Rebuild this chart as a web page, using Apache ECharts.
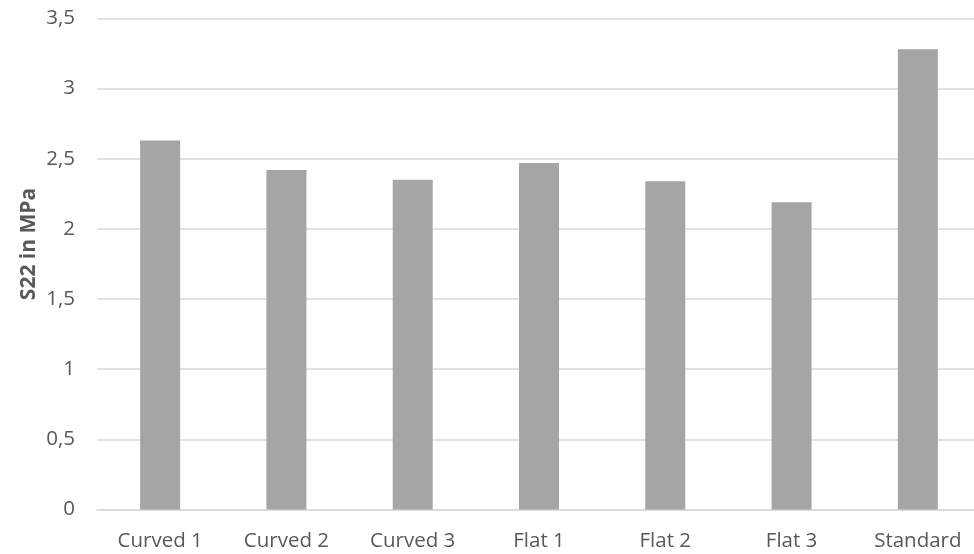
<!DOCTYPE html>
<html>
<head>
<meta charset="utf-8">
<script src="https://cdn.jsdelivr.net/npm/echarts@6/dist/echarts.min.js"></script>
<style>
  html, body { margin: 0; padding: 0; background: #fff; overflow: hidden; }
  /* plot runs slightly past the right edge of the window */
  #chart { width: 981px; height: 554px; }
</style>
</head>
<body>
<div id="chart"></div>
<script>
// Specimen groups and their measured S22 stress (MPa)
const categories = ['Curved 1', 'Curved 2', 'Curved 3', 'Flat 1', 'Flat 2', 'Flat 3', 'Standard'];
const s22Values = [2.63, 2.42, 2.35, 2.47, 2.34, 2.19, 3.28];
const yTicks = { min: 0, max: 3.5, step: 0.5 };
const yAxisTitle = 'S22 in MPa';

const chart = echarts.init(document.getElementById('chart'), null, { renderer: 'canvas' });

const labelFont = '"Open Sans", Lato, "Liberation Sans", sans-serif';

chart.setOption({
  animation: false,
  backgroundColor: '#ffffff',
  grid: { left: 97, right: 0, top: 18.5, height: 491, containLabel: false },
  xAxis: {
    type: 'category',
    data: categories,
    axisLine: { show: true, lineStyle: { color: '#D9D9D9', width: 1.5 } },
    axisTick: { show: false },
    axisLabel: { color: '#595959', fontSize: 20.5, fontFamily: labelFont, margin: 21 },
    splitLine: { show: false }
  },
  yAxis: {
    type: 'value',
    min: yTicks.min,
    max: yTicks.max,
    interval: yTicks.step,
    axisLine: { show: false },
    axisTick: { show: false },
    axisLabel: {
      color: '#595959', fontSize: 20.5, fontFamily: labelFont, margin: 22,
      formatter: v => String(v).replace('.', ',')
    },
    splitLine: { lineStyle: { color: '#D9D9D9', width: 1.5 } }
  },
  graphic: [{
    type: 'text',
    x: 29,
    y: 244,
    rotation: Math.PI / 2,
    style: {
      text: yAxisTitle,
      fill: '#595959',
      font: 'bold 21px "Open Sans", Lato, sans-serif',
      align: 'center',
      verticalAlign: 'middle'
    }
  }],
  series: [{
    type: 'bar',
    data: s22Values,
    barWidth: 40,
    itemStyle: { color: '#A5A5A5' }
  }]
});
</script>
</body>
</html>
